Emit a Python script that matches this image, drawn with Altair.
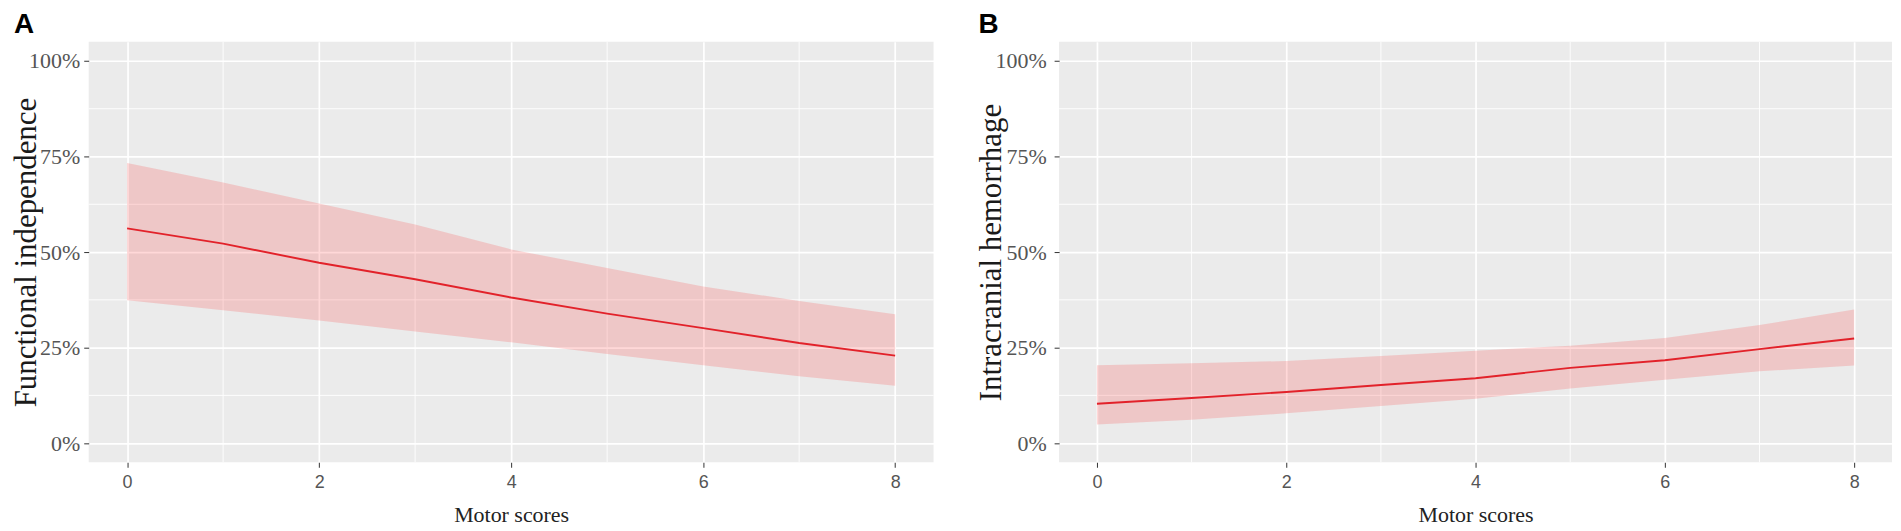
import altair as alt
import pandas as pd

# ---- data ----
motor = [0, 1, 2, 3, 4, 5, 6, 7, 8]

a_fit = [56.2, 52.2, 47.2, 42.9, 38.1, 33.9, 30.1, 26.2, 22.9]
a_lo = [37.4, 34.8, 32.1, 29.2, 26.4, 23.3, 20.4, 17.5, 15.0]
a_hi = [73.3, 68.2, 62.7, 57.2, 50.7, 45.8, 41.0, 37.2, 33.7]

b_fit = [10.3, 11.8, 13.4, 15.2, 17.0, 19.7, 21.7, 24.6, 27.4]
b_lo = [4.9, 6.1, 7.8, 9.7, 11.6, 14.3, 16.6, 18.8, 20.3]
b_hi = [20.4, 20.9, 21.5, 22.8, 24.2, 25.5, 27.5, 30.9, 35.0]

x_ticks = [0, 2, 4, 6, 8]
y_ticks = [0, 0.25, 0.5, 0.75, 1.0]
x_minor = [1, 3, 5, 7]
y_minor = [0.125, 0.375, 0.625, 0.875]

SERIF = "Liberation Serif"
SANS = "Liberation Sans"


def panel(fit, lo, hi, ytitle, letter, w, h, extent, label_pad):
    df = pd.DataFrame({
        "x": motor,
        "fit": [v / 100 for v in fit],
        "lo": [v / 100 for v in lo],
        "hi": [v / 100 for v in hi],
    })
    xs = alt.Scale(domain=[-0.4, 8.4], nice=False, zero=False)
    ys = alt.Scale(domain=[-0.05, 1.05], nice=False, zero=False)

    x_axis = alt.Axis(
        values=x_ticks, title="Motor scores", format="d",
        labelFont=SANS, labelFontSize=18, labelColor="#555555",
        labelPadding=6, tickSize=5, tickColor="#333333", tickWidth=1,
        domain=False, grid=True, gridColor="white", gridWidth=1.7,
        titleFont=SERIF, titleFontSize=22, titleFontWeight="normal",
        titleColor="#222222", titlePadding=13,
    )
    y_axis = alt.Axis(
        values=y_ticks, title=ytitle, format=".0%",
        labelFont=SERIF, labelFontSize=22, labelColor="#555555",
        labelPadding=label_pad, tickSize=5, tickColor="#333333", tickWidth=1,
        domain=False, grid=True, gridColor="white", gridWidth=1.7,
        minExtent=extent, maxExtent=extent,
        titleFont=SERIF, titleFontSize=31, titleFontWeight="normal",
        titleColor="#1a1a1a", titlePadding=-2,
    )

    minor_vx = alt.Chart(pd.DataFrame({"m": x_minor})).mark_rule(
        color="white", strokeWidth=0.9
    ).encode(x=alt.X("m:Q", scale=xs, axis=x_axis))
    minor_hy = alt.Chart(pd.DataFrame({"m": y_minor})).mark_rule(
        color="white", strokeWidth=0.9
    ).encode(y=alt.Y("m:Q", scale=ys, axis=y_axis))

    base = alt.Chart(df)
    band = base.mark_area(color="#FF1A1A", opacity=0.17).encode(
        x=alt.X("x:Q", scale=xs, axis=x_axis),
        y=alt.Y("lo:Q", scale=ys, axis=y_axis),
        y2="hi:Q",
    )
    line = base.mark_line(color="#E2222A", strokeWidth=1.9).encode(
        x=alt.X("x:Q", scale=xs, axis=x_axis),
        y=alt.Y("fit:Q", scale=ys, axis=y_axis),
    )
    return alt.layer(minor_vx, minor_hy, band, line).properties(
        width=w, height=h,
        title=alt.TitleParams(
            letter, anchor="start", frame="bounds", font=SANS,
            fontSize=28, fontWeight="bold", color="black", offset=2, dx=3,
        ),
    )


pa = panel(a_fit, a_lo, a_hi, "Functional independence", "A", 848, 422, 48, 4)
pb = panel(b_fit, b_lo, b_hi, "Intracranial hemorrhage", "B", 836, 422, 54, 8)

chart = alt.hconcat(pa, pb, spacing=41).properties(
    padding={"left": 3, "top": 2, "right": 0, "bottom": 0},
    background="white",
).configure_view(fill="#EBEBEB", stroke=None)

chart.save("out.html", embed_options={"renderer": "svg", "actions": False})
